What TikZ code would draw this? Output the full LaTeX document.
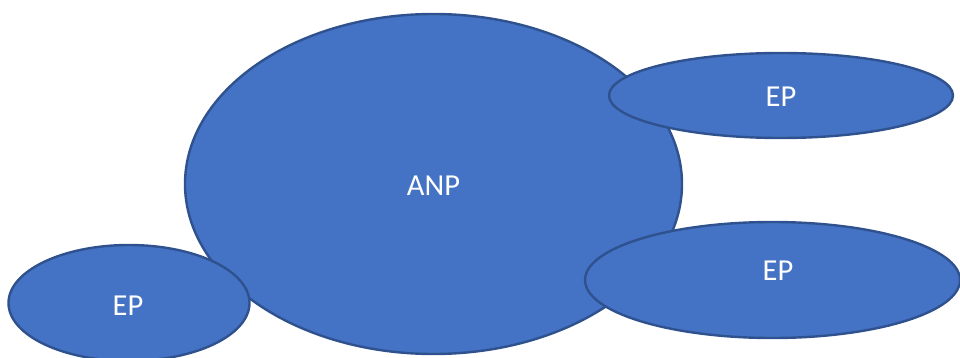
\documentclass[tikz,border=0pt]{standalone}
\usepackage{fontspec}
\setmainfont{Carlito}
\usetikzlibrary{shapes.geometric}
\definecolor{blobfill}{HTML}{4472C4}
\definecolor{blobline}{HTML}{2F528F}
\tikzset{
  blob/.style={ellipse, fill=blobfill, draw=blobline, line width=2.4pt, inner sep=0pt},
  tag/.style={text=white, font=\fontsize{30.5}{36}\selectfont, inner sep=0pt}
}
\begin{document}
\begin{tikzpicture}[x=1pt,y=-1pt]
  \useasboundingbox (0,0) rectangle (960,358);
  \clip (0,0) rectangle (960,358);
  % central circle with the three satellites drawn on top
  \node[blob, minimum width=497pt, minimum height=340pt] (anp) at (433.5,184) {};
  \node[blob, minimum width=344pt, minimum height=85pt] (eptop) at (781,95.5) {};
  \node[blob, minimum width=375pt, minimum height=116pt] (epright) at (772.5,280) {};
  \node[blob, minimum width=241pt, minimum height=116pt] (epleft) at (129,303) {};
  % labels
  \node[tag] (anplabel) at (433.5,186) {ANP};
  \node[tag] (eptoplabel) at (781,97) {EP};
  \node[tag] (eprightlabel) at (778,271) {EP};
  \node[tag] (epleftlabel) at (128,306) {EP};
\end{tikzpicture}
\end{document}
